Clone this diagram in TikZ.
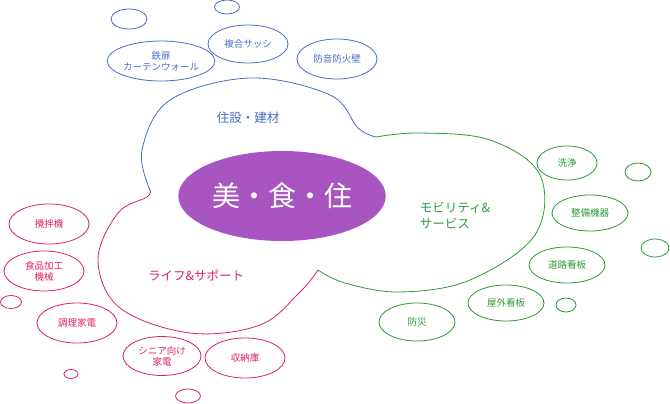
\documentclass[tikz,border=0pt]{standalone}
\usepackage{fontspec}
\setmainfont{Noto Sans CJK JP}
\usetikzlibrary{shapes.geometric}
\begin{document}
\begin{tikzpicture}[x=1pt,y=-1pt,
  bl/.style={draw=cb,line width=0.8pt,ellipse,inner sep=0pt},
  blu/.style={ellipse,draw=cb,line width=0.8pt,text=cb,font=\fontsize{9.5}{11}\selectfont,align=center},
  grn/.style={ellipse,draw=cg,line width=0.8pt,text=cg,font=\fontsize{9.5}{11}\selectfont,align=center},
  rd/.style={ellipse,draw=cr,line width=0.8pt,text=cr,font=\fontsize{9.5}{11}\selectfont,align=center}]
\definecolor{cb}{HTML}{4A6CC8}
\definecolor{cg}{HTML}{2A9A3A}
\definecolor{cr}{HTML}{E0205A}
\definecolor{cp}{HTML}{A855C2}
\useasboundingbox (0,0) rectangle (670,404);
% blobs
\draw[cb,line width=0.8pt] plot[smooth,tension=0.6] coordinates{(150,190) (142,150) (170,100) (250,78) (330,95) (358,128) (376,137)};
\draw[cg,line width=0.8pt] plot[smooth,tension=0.6] coordinates{(376,137) (420,133) (490,140) (540,175) (535,235) (470,280) (400,292) (345,283) (318,270)};
\draw[cr,line width=0.8pt] plot[smooth,tension=0.6] coordinates{(318,270) (300,292) (260,325) (190,333) (120,308) (98,260) (118,213) (147,197) (150,190)};
\node[ellipse,fill=cp,minimum width=204,minimum height=90,text=white,font=\fontsize{28}{30}\selectfont] (c) at (282,196) {美・食・住};
\node[text=cb,font=\fontsize{12.5}{14}\selectfont] (t1) at (248,118) {住設・建材};
\node[text=cg,font=\fontsize{12.5}{16}\selectfont,align=left] (t2) at (455,216) {モビリティ\&\\サービス};
\node[text=cr,font=\fontsize{12.5}{14}\selectfont] (t3) at (196,275) {ライフ\&サポート};
% blue
\node[blu,minimum width=80,minimum height=40,inner sep=0pt] (b1) at (161,61) {鉄扉\\カーテンウォール};
\node[blu,minimum width=80,minimum height=38,inner sep=0pt] (b2) at (248,44) {複合サッシ};
\node[blu,minimum width=80,minimum height=40,inner sep=0pt] (b3) at (337,59) {防音防火壁};
\node[bl,minimum width=36,minimum height=20] (b4) at (129,19) {};
\node[bl,minimum width=25,minimum height=14] (b5) at (227,7) {};
% green
\node[grn,minimum width=60,minimum height=34,inner sep=0pt] (g1) at (567,163) {洗浄};
\node[grn,minimum width=76,minimum height=36,inner sep=0pt] (g2) at (590,213) {整備機器};
\node[grn,minimum width=76,minimum height=36,inner sep=0pt] (g3) at (567,265) {道路看板};
\node[grn,minimum width=76,minimum height=36,inner sep=0pt] (g4) at (506,303) {屋外看板};
\node[grn,minimum width=76,minimum height=38,inner sep=0pt] (g5) at (417,322) {防災};
\node[bl,draw=cg,minimum width=26,minimum height=18] (g6) at (638,172) {};
\node[bl,draw=cg,minimum width=28,minimum height=18] (g7) at (655,248) {};
\node[bl,draw=cg,minimum width=20,minimum height=14] (g8) at (566,305) {};
% red
\node[rd,minimum width=80,minimum height=40,inner sep=0pt] (r1) at (49,224) {攪拌機};
\node[rd,minimum width=80,minimum height=40,inner sep=0pt] (r2) at (44,271) {食品加工\\機械};
\node[rd,minimum width=80,minimum height=40,inner sep=0pt] (r3) at (77,323) {調理家電};
\node[rd,minimum width=78,minimum height=39,inner sep=0pt] (r4) at (162,356) {シニア向け\\家電};
\node[rd,minimum width=80,minimum height=40,inner sep=0pt] (r5) at (245,358) {収納庫};
\node[bl,draw=cr,minimum width=21,minimum height=13] (r6) at (11,302) {};
\node[bl,draw=cr,minimum width=14,minimum height=9] (r7) at (71,374) {};
\node[bl,draw=cr,minimum width=25,minimum height=14] (r8) at (188,396) {};
\end{tikzpicture}
\end{document}
